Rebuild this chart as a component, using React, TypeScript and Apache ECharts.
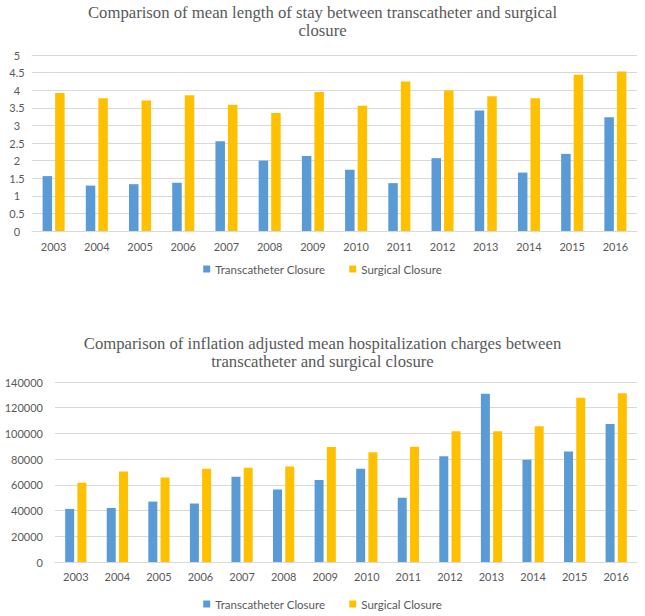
import React, { useEffect, useRef } from 'react';
import * as echarts from 'echarts';

const years = ['2003', '2004', '2005', '2006', '2007', '2008', '2009', '2010', '2011', '2012', '2013', '2014', '2015', '2016'];
const seriesNames = ['Transcatheter Closure', 'Surgical Closure'];
const stayTranscatheter = [1.56, 1.29, 1.33, 1.37, 2.55, 2.0, 2.13, 1.74, 1.36, 2.07, 3.42, 1.66, 2.19, 3.23];
const staySurgical = [3.92, 3.77, 3.71, 3.86, 3.59, 3.35, 3.95, 3.56, 4.25, 3.99, 3.83, 3.77, 4.44, 4.53];
const chargeTranscatheter = [41300, 42000, 47000, 45500, 66300, 56400, 63800, 72500, 50000, 82300, 130800, 79500, 85900, 107300];
const chargeSurgical = [61700, 70300, 65700, 72500, 73300, 74300, 89500, 85300, 89600, 101600, 101600, 105500, 127800, 131300];
const title1 = 'Comparison of mean length of stay between transcatheter and surgical\nclosure';
const title2 = 'Comparison of inflation adjusted mean hospitalization charges between\ntranscatheter and surgical closure';

const BLUE = '#5B9BD5';
const GOLD = '#FFC000';
const TXT = '#595959';
const GRID = '#D9D9D9';
const FONT = 'Lato, "Liberation Sans", sans-serif';

export default function App() {
  const ref = useRef<HTMLDivElement>(null);
  useEffect(() => {
    if (!ref.current) return;
    const chart = echarts.init(ref.current, undefined, { renderer: 'svg' });
    const titleStyle = { fontFamily: '"Liberation Serif", "Times New Roman", serif', fontSize: 16.7, fontWeight: 'normal' as const, color: TXT, lineHeight: 18.5 };
    const xLabel = { color: TXT, fontFamily: FONT, fontSize: 11 };
    const legendCommon = {
      data: seriesNames,
      itemWidth: 7,
      itemHeight: 7,
      itemGap: 24,
      icon: 'rect',
      textStyle: { color: TXT, fontFamily: FONT, fontSize: 11.5 },
      selectedMode: false,
    };
    chart.setOption({
      animation: false,
      backgroundColor: '#fff',
      title: [
        { text: title1, left: 'center', top: 3, padding: 0, textStyle: titleStyle },
        { text: title2, left: 'center', top: 334, padding: 0, textStyle: titleStyle },
      ],
      legend: [
        { ...legendCommon, left: 'center', top: 258 },
        { ...legendCommon, left: 'center', top: 593 },
      ],
      grid: [
        { left: 32, right: 8, top: 55, height: 176 },
        { left: 55, right: 8, top: 382, height: 180 },
      ],
      xAxis: [
        {
          type: 'category', gridIndex: 0, data: years,
          axisLine: { lineStyle: { color: GRID } }, axisTick: { show: false },
          axisLabel: { ...xLabel, margin: 10 },
        },
        {
          type: 'category', gridIndex: 1, data: years,
          axisLine: { lineStyle: { color: GRID } }, axisTick: { show: false },
          axisLabel: { ...xLabel, margin: 9 },
        },
      ],
      yAxis: [
        {
          type: 'value', gridIndex: 0, min: 0, max: 5, interval: 0.5,
          axisLine: { show: false }, axisTick: { show: false },
          splitLine: { lineStyle: { color: GRID } },
          axisLabel: { ...xLabel, align: 'center', margin: 15 },
        },
        {
          type: 'value', gridIndex: 1, min: 0, max: 140000, interval: 20000,
          axisLine: { show: false }, axisTick: { show: false },
          splitLine: { lineStyle: { color: GRID } },
          axisLabel: { ...xLabel, margin: 12, formatter: (v: number) => String(v) },
        },
      ],
      series: [
        { name: seriesNames[0], type: 'bar', xAxisIndex: 0, yAxisIndex: 0, data: stayTranscatheter, barWidth: 9.5, barGap: '32%', itemStyle: { color: BLUE } },
        { name: seriesNames[1], type: 'bar', xAxisIndex: 0, yAxisIndex: 0, data: staySurgical, barWidth: 9.5, barGap: '32%', itemStyle: { color: GOLD } },
        { name: seriesNames[0], type: 'bar', xAxisIndex: 1, yAxisIndex: 1, data: chargeTranscatheter, barWidth: 9, barGap: '36%', itemStyle: { color: BLUE } },
        { name: seriesNames[1], type: 'bar', xAxisIndex: 1, yAxisIndex: 1, data: chargeSurgical, barWidth: 9, barGap: '36%', itemStyle: { color: GOLD } },
      ],
    });
    return () => chart.dispose();
  }, []);
  return <div ref={ref} style={{ position: 'fixed', left: 0, top: 0, width: 645, height: 616 }} />;
}
